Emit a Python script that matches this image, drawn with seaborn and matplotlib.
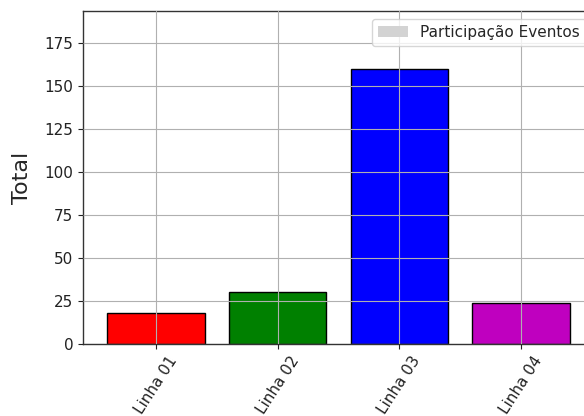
import matplotlib
matplotlib.use("Agg")
import matplotlib.pyplot as plt
from matplotlib.patches import Patch
import seaborn as sns

linhas = ["Linha 01", "Linha 02", "Linha 03", "Linha 04"]
totais = [18, 30, 160, 24]
cores = ["red", "green", "blue", "m"]
legenda = "Participação Eventos"

sns.set_style("ticks")
plt.rcParams["font.family"] = ["DejaVu Sans"]

fig = plt.figure(figsize=(5.84, 4.16), dpi=100)
ax = fig.add_axes([83 / 584, 1 - 344 / 416, (594 - 83) / 584, (344 - 11) / 416])

sns.barplot(x=linhas, y=totais, hue=linhas, palette=cores, edgecolor="black",
            linewidth=1.0, width=0.8, saturation=1, legend=False, ax=ax)

ax.set_xlim(-0.6, 3.6)
ax.set_ylim(0, 193.6)
ax.set_yticks([0, 25, 50, 75, 100, 125, 150, 175])
ax.grid(True, color="#b0b0b0", linewidth=0.8)
ax.set_axisbelow(False)
for s in ax.spines.values():
    s.set_color("#333333")
    s.set_linewidth(1.0)
ax.tick_params(colors="#222222", labelsize=11, direction="out", length=3.5)
plt.setp(ax.get_xticklabels(), rotation=57, ha="center", va="top")
ax.set_xlabel("")
ax.set_ylabel("Total", fontsize=16, labelpad=9)

ax.legend(handles=[Patch(facecolor="lightgray", edgecolor="none", label=legenda)],
          loc="upper right", fontsize=11, framealpha=0.8)

fig.savefig("out.png", dpi=100)
